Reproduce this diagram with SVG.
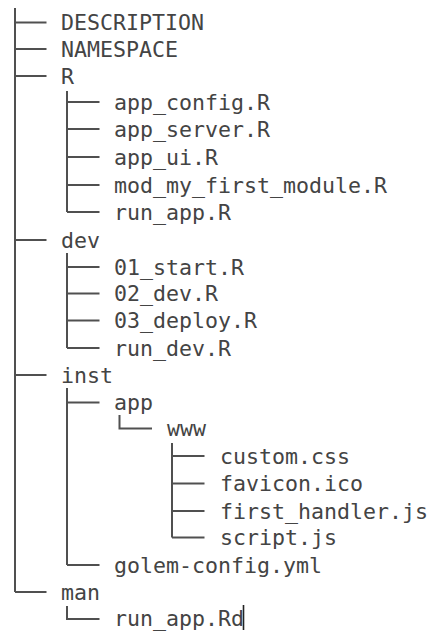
<svg xmlns="http://www.w3.org/2000/svg" width="430" height="632" viewBox="0 0 430 632">
  <style>
    .bg { fill: #ffffff; }
    .tree { stroke: #505050; stroke-width: 2; fill: none; stroke-linecap: butt; }
    .name { font-family: "DejaVu Sans Mono", "Liberation Mono", monospace; font-size: 21.6px; fill: #444444; }
    .cursor { stroke: #222222; stroke-width: 1.6; }
  </style>
  <rect class="bg" x="0" y="0" width="430" height="632"/>

  <!-- tree branches -->
  <g id="connectors" class="tree">
    <!-- root trunk -->
    <path d="M15 8 V592"/>
    <path d="M15 22.5 H46.5 M15 49 H46.5 M15 76 H46.5 M15 240 H46.5 M15 375 H46.5 M15 592 H46.5"/>
    <!-- R/ -->
    <path d="M67 91 V212"/>
    <path d="M67 102 H99.5 M67 129 H99.5 M67 157 H99.5 M67 185 H99.5 M67 212 H99.5"/>
    <!-- dev/ -->
    <path d="M67 253 V348"/>
    <path d="M67 267 H99.5 M67 293.5 H99.5 M67 320.5 H99.5 M67 348 H99.5"/>
    <!-- inst/ -->
    <path d="M67 388 V565"/>
    <path d="M67 402.5 H99.5 M67 565 H99.5"/>
    <!-- inst/app/ -->
    <path d="M119.5 415 V428.5 H152"/>
    <!-- inst/app/www/ -->
    <path d="M172 443 V537.5"/>
    <path d="M172 456 H204.5 M172 483.5 H204.5 M172 511 H204.5 M172 537.5 H204.5"/>
    <!-- man/ -->
    <path d="M67 606 V619 H99.5"/>
  </g>

  <!-- entries -->
  <g id="description"><text class="name" x="61" y="30.3">DESCRIPTION</text></g>
  <g id="namespace"><text class="name" x="61" y="56.8">NAMESPACE</text></g>
  <g id="dir-R"><text class="name" x="61" y="83.8">R</text></g>
  <g id="app-config"><text class="name" x="114" y="109.8">app_config.R</text></g>
  <g id="app-server"><text class="name" x="114" y="136.8">app_server.R</text></g>
  <g id="app-ui"><text class="name" x="114" y="164.8">app_ui.R</text></g>
  <g id="mod-my-first-module"><text class="name" x="114" y="192.8">mod_my_first_module.R</text></g>
  <g id="run-app-R"><text class="name" x="114" y="219.8">run_app.R</text></g>
  <g id="dir-dev"><text class="name" x="61" y="247.8">dev</text></g>
  <g id="start"><text class="name" x="114" y="274.8">01_start.R</text></g>
  <g id="dev-R"><text class="name" x="114" y="301.3">02_dev.R</text></g>
  <g id="deploy"><text class="name" x="114" y="328.3">03_deploy.R</text></g>
  <g id="run-dev"><text class="name" x="114" y="355.8">run_dev.R</text></g>
  <g id="dir-inst"><text class="name" x="61" y="382.8">inst</text></g>
  <g id="dir-app"><text class="name" x="114" y="410.3">app</text></g>
  <g id="dir-www"><text class="name" x="167" y="436.3">www</text></g>
  <g id="custom-css"><text class="name" x="220" y="463.8">custom.css</text></g>
  <g id="favicon"><text class="name" x="220" y="491.3">favicon.ico</text></g>
  <g id="first-handler"><text class="name" x="220" y="518.8">first_handler.js</text></g>
  <g id="script-js"><text class="name" x="220" y="545.3">script.js</text></g>
  <g id="golem-config"><text class="name" x="114" y="572.8">golem-config.yml</text></g>
  <g id="dir-man"><text class="name" x="61" y="599.8">man</text></g>
  <g id="run-app-Rd"><text class="name" x="114" y="626">run_app.Rd</text></g>

  <!-- text caret -->
  <line class="cursor" x1="243.5" y1="605" x2="243.5" y2="630"/>
</svg>
